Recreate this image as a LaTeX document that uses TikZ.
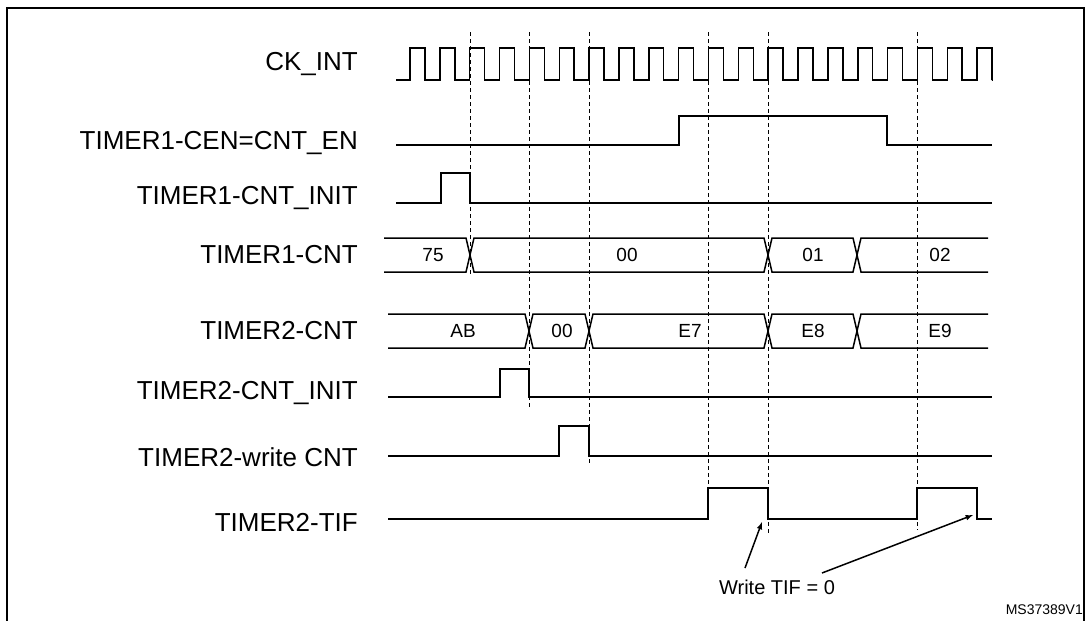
\documentclass[tikz,border=0pt]{standalone}
\usepackage{fontspec}
\setmainfont{Liberation Sans}
\begin{document}
\begin{tikzpicture}[x=1pt,y=-1pt,
  sig/.style={line width=1.5pt,line join=miter},
  vdash/.style={line width=1pt,dash pattern=on 4pt off 3pt},
  lab/.style={anchor=east,font=\fontsize{26}{30}\selectfont,inner sep=0pt},
  val/.style={font=\fontsize{19}{22}\selectfont,inner sep=0pt}]
\useasboundingbox (0,0) rectangle (1087,621);
\draw[line width=1.5pt] (7,640) -- (7,8) -- (1084,8) -- (1084,640);
% labels
\node[lab] (l1) at (358,64) {CK\_INT};
\node[lab] (l2) at (358,143) {TIMER1-CEN=CNT\_EN};
\node[lab] (l3) at (358,198) {TIMER1-CNT\_INIT};
\node[lab] (l4) at (358,255) {TIMER1-CNT};
\node[lab] (l5) at (358,331) {TIMER2-CNT};
\node[lab] (l6) at (358,393) {TIMER2-CNT\_INIT};
\node[lab] (l7) at (358,457) {TIMER2-write CNT};
\node[lab] (l8) at (358,522) {TIMER2-TIF};
% dashed lines
\foreach \x/\yb in {470/275,529/409,589/465,708/488,768/535,917/530}
  \draw[vdash] (\x,32) -- (\x,\yb);
% clock
\draw[sig] (396,80) -- (410,80)
  \foreach \k in {0,...,19} {
    -- ({410+29.85*\k},80) -- ({410+29.85*\k},48) -- ({424.9+29.85*\k},48) -- ({424.9+29.85*\k},80)
  } -- (992,80);
% CEN
\draw[sig] (396,145) -- (679,145) -- (679,116) -- (887,116) -- (887,145) -- (992,145);
% T1 CNT_INIT
\draw[sig] (396,203) -- (441,203) -- (441,173) -- (470,173) -- (470,203) -- (992,203);
% T2 CNT_INIT
\draw[sig] (388,397) -- (500,397) -- (500,369) -- (529,369) -- (529,397) -- (992,397);
% T2 write CNT
\draw[sig] (388,456) -- (559,456) -- (559,426) -- (589,426) -- (589,456) -- (992,456);
% TIF
\draw[sig] (388,519) -- (708,519) -- (708,488) -- (768,488) -- (768,519) -- (917,519) -- (917,488) -- (977,488) -- (977,519) -- (992,519);
% TIMER1-CNT bus
\def\bt{238}\def\bb{272}\def\dd{4}
\draw[sig] (384,\bt) -- (470-\dd,\bt) -- (470+\dd,\bb) -- (768-\dd,\bb) -- (768+\dd,\bt) -- (857-\dd,\bt) -- (857+\dd,\bb) -- (988,\bb);
\draw[sig] (384,\bb) -- (470-\dd,\bb) -- (470+\dd,\bt) -- (768-\dd,\bt) -- (768+\dd,\bb) -- (857-\dd,\bb) -- (857+\dd,\bt) -- (988,\bt);
\node[val] (v1) at (433,255) {75};
\node[val] (v2) at (627,255) {00};
\node[val] (v3) at (813,255) {01};
\node[val] (v4) at (940,255) {02};
% TIMER2-CNT bus
\def\bt{314}\def\bb{348}
\draw[sig] (388,\bt) -- (529-\dd,\bt) -- (529+\dd,\bb) -- (589-\dd,\bb) -- (589+\dd,\bt) -- (768-\dd,\bt) -- (768+\dd,\bb) -- (857-\dd,\bb) -- (857+\dd,\bt) -- (988,\bt);
\draw[sig] (388,\bb) -- (529-\dd,\bb) -- (529+\dd,\bt) -- (589-\dd,\bt) -- (589+\dd,\bb) -- (768-\dd,\bb) -- (768+\dd,\bt) -- (857-\dd,\bt) -- (857+\dd,\bb) -- (988,\bb);
\node[val] (w1) at (463,331) {AB};
\node[val] (w2) at (562,331) {00};
\node[val] (w3) at (690,331) {E7};
\node[val] (w4) at (813,331) {E8};
\node[val] (w5) at (940,331) {E9};
% annotation
\node[val,font=\fontsize{20}{24}\selectfont] (wt) at (777,587) {Write TIF = 0};
\coordinate (a1) at (762,522);
\coordinate (a2) at (973,515);
\draw[line width=1.5pt,-latex] (745,568) -- (a1);
\draw[line width=1.5pt,-latex] (822,573) -- (a2);
\node[anchor=east,inner sep=0pt,font=\fontsize{14}{16}\selectfont] (ms) at (1083,610) {MS37389V1};
\end{tikzpicture}
\end{document}
